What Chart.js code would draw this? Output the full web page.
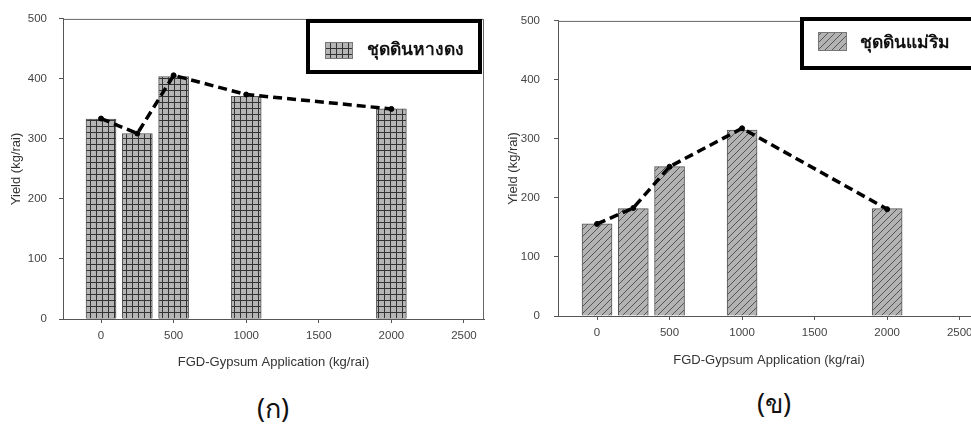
<!DOCTYPE html>
<html>
<head>
<meta charset="utf-8">
<script src="https://cdn.jsdelivr.net/npm/chart.js@4.4.1/dist/chart.umd.min.js"></script>
<style>
  html, body { margin: 0; padding: 0; background: #fff; }
  body { position: relative; width: 971px; height: 425px; overflow: hidden; }
  .panel { position: absolute; top: 0; height: 380px; }
  #wrapA { left: 0; width: 490px; }
  #wrapB { left: 490px; width: 500px; }
  .cap { position: absolute; transform: translate(-50%, -50%); font-family: 'Noto Sans', 'DejaVu Sans', sans-serif; font-size: 27px; color: #111; white-space: nowrap; }
</style>
</head>
<body>
<div class="panel" id="wrapA"><canvas id="chartA"></canvas></div>
<div class="panel" id="wrapB"><canvas id="chartB"></canvas></div>
<div class="cap" style="left:273px; top:408px;">(ก)</div>
<div class="cap" style="left:774px; top:403px;">(ข)</div>
<script>
// FGD-gypsum dose (kg/rai)
const doses = [0, 250, 500, 1000, 2000];
// (ก) ชุดดินหางดง
const barsHangDong = [333, 309, 404, 371, 350];
const lineHangDong = [334, 309, 406, 374, 350];
// (ข) ชุดดินแม่ริม
const barsMaeRim = [156, 182, 253, 315, 182];
const lineMaeRim = [156, 183, 253, 318, 181];

const xTicks = [0, 500, 1000, 1500, 2000, 2500];
const yTicks = [0, 100, 200, 300, 400, 500];

const xTitle = 'FGD-Gypsum Application (kg/rai)';
const yTitle = 'Yield (kg/rai)';

// hatch patterns
function gridPattern() {
    const c = document.createElement('canvas');
    c.width = 6; c.height = 6;
    const g = c.getContext('2d');
    g.fillStyle = '#b5b5b5';
    g.fillRect(0, 0, 6, 6);
    g.fillStyle = '#333';
    g.fillRect(0, 0, 6, 1);
    g.fillRect(0, 0, 1, 6);
    return g.createPattern(c, 'repeat');
}

function diagPattern() {
    const c = document.createElement('canvas');
    c.width = 7; c.height = 7;
    const g = c.getContext('2d');
    g.fillStyle = '#b3b3b3';
    g.fillRect(0, 0, 7, 7);
    g.strokeStyle = '#555';
    g.lineWidth = 1;
    g.beginPath();
    g.moveTo(-1, 8); g.lineTo(8, -1);
    g.moveTo(-1, 1); g.lineTo(1, -1);
    g.moveTo(6, 8); g.lineTo(8, 6);
    g.stroke();
    return g.createPattern(c, 'repeat');
}

// box round the plot (top + right edges)
const frame = {
    id: 'frame',
    afterDraw(chart) {
        const { ctx, chartArea: a } = chart;
        ctx.save();
        ctx.strokeStyle = '#666';
        ctx.lineWidth = 1;
        ctx.beginPath();
        ctx.moveTo(a.left, a.top + 0.5);
        ctx.lineTo(a.right - 0.5, a.top + 0.5);
        ctx.lineTo(a.right - 0.5, a.bottom);
        ctx.stroke();
        ctx.restore();
    }
};

// legend with thick black box
const boxLegend = {
    id: 'boxLegend',
    afterDraw(chart, args, o) {
        const ctx = chart.ctx;
        const ds = chart.data.datasets.find(d => d.type === 'bar' || !d.type);
        ctx.save();
        ctx.fillStyle = '#fff';
        ctx.fillRect(o.x, o.y, o.w, o.h);
        ctx.strokeStyle = '#000';
        ctx.lineWidth = 4;
        ctx.strokeRect(o.x, o.y, o.w, o.h);
        ctx.fillStyle = ds.backgroundColor;
        ctx.fillRect(o.px, o.py, o.pw, o.ph);
        ctx.strokeStyle = '#777';
        ctx.lineWidth = 1;
        ctx.strokeRect(o.px + 0.5, o.py + 0.5, o.pw - 1, o.ph - 1);
        ctx.fillStyle = '#111';
        ctx.font = "bold 17.5px 'Noto Sans', 'DejaVu Sans', sans-serif";
        ctx.textBaseline = 'middle';
        ctx.fillText(ds.label, o.tx, o.ty);
        ctx.restore();
    }
};

function makeChart(id, label, bars, line, lay) {
    const ctx = document.getElementById(id).getContext('2d');
    return new Chart(ctx, {
        type: 'bar',
        data: {
            datasets: [
                {
                    type: 'line',
                    label: 'mean',
                    data: doses.map((d, i) => ({ x: d, y: line[i] })),
                    borderColor: '#000',
                    borderWidth: 3.5,
                    borderDash: [9, 5],
                    pointRadius: 2.5,
                    pointBorderWidth: 1,
                    pointBackgroundColor: '#000',
                    pointBorderColor: '#000',
                    tension: 0,
                    fill: false,
                    order: 0
                },
                {
                    type: 'bar',
                    label: label,
                    data: doses.map((d, i) => ({ x: d, y: bars[i] })),
                    backgroundColor: lay.pattern,
                    borderColor: '#555',
                    borderWidth: 1,
                    barThickness: 30,
                    order: 1
                }
            ]
        },
        options: {
            responsive: true,
            maintainAspectRatio: false,
            animation: false,
            layout: { padding: { top: lay.top, right: lay.right, left: 0, bottom: 0 } },
            plugins: {
                legend: { display: false },
                tooltip: { enabled: false },
                boxLegend: lay.legend
            },
            scales: {
                x: {
                    type: 'linear',
                    min: lay.xmin,
                    max: lay.xmax,
                    offset: false,
                    afterBuildTicks: s => { s.ticks = xTicks.map(v => ({ value: v })); },
                    afterFit: s => { s.height = lay.xh; },
                    grid: { drawOnChartArea: false, drawTicks: true, tickLength: 4, tickColor: '#555', offset: false },
                    border: { display: true, color: '#555', width: 1 },
                    ticks: { color: '#444', padding: 6, maxRotation: 0, callback: v => String(v), font: { family: "'Liberation Sans', Arial, sans-serif", size: 11.5 } },
                    title: { display: true, text: xTitle, color: '#333', padding: { top: 0, bottom: lay.xtp }, font: { family: "'Liberation Sans', Arial, sans-serif", size: 13, lineHeight: 1.2 } }
                },
                y: {
                    min: 0,
                    max: 500,
                    afterBuildTicks: s => { s.ticks = yTicks.map(v => ({ value: v })); },
                    afterFit: s => { s.width = lay.yw; },
                    grid: { drawOnChartArea: false, drawTicks: true, tickLength: 4, tickColor: '#555' },
                    border: { display: true, color: '#555', width: 1 },
                    ticks: { color: '#444', padding: lay.ypad, callback: v => String(v), font: { family: "'Liberation Sans', Arial, sans-serif", size: 11.5 } },
                    title: { display: true, text: yTitle, color: '#333', padding: { top: lay.ytp, bottom: 0 }, font: { family: "'Liberation Sans', Arial, sans-serif", size: 13, lineHeight: 1.2 } }
                }
            }
        },
        plugins: [frame, boxLegend]
    });
}

makeChart('chartA', 'ชุดดินหางดง', barsHangDong, lineHangDong, {
    pattern: gridPattern(),
    top: 16, right: 6, xh: 61, yw: 63, ypad: 12, xtp: 10, ytp: 9,
    xmin: -262, xmax: 2638,
    legend: { x: 308, y: 21, w: 172, h: 51, px: 325, py: 42, pw: 28, ph: 17, tx: 367, ty: 50 }
});

makeChart('chartB', 'ชุดดินแม่ริม', barsMaeRim, lineMaeRim, {
    pattern: diagPattern(),
    top: 14, right: 10, xh: 64, yw: 68, ypad: 14, xtp: 12, ytp: 16,
    xmin: -269, xmax: 2640,
    legend: { x: 312, y: 19, w: 174, h: 49, px: 328, py: 32, pw: 29, ph: 19, tx: 370, ty: 43 }
});
</script>
</body>
</html>
